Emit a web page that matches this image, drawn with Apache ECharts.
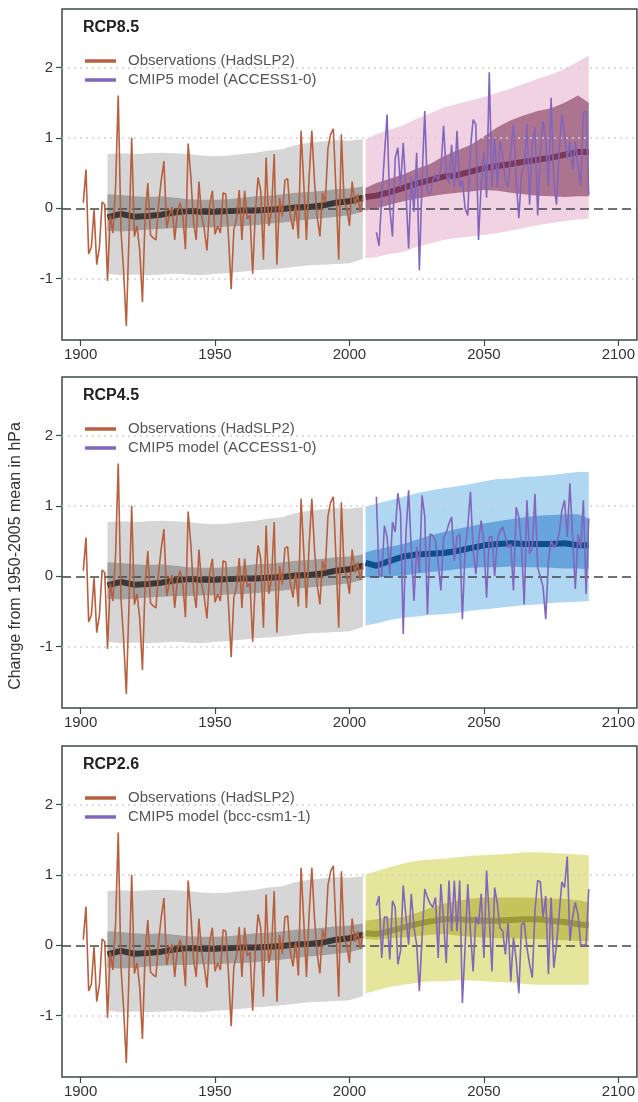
<!DOCTYPE html>
<html>
<head>
<meta charset="utf-8">
<script src="https://cdn.jsdelivr.net/npm/echarts@6/dist/echarts.min.js"></script>
<style>
html, body { margin: 0; padding: 0; background: #fff; }
#chart { width: 638px; height: 1102px; }
</style>
</head>
<body>
<div id="chart"></div>
<script>
// ---- data ----
var obsName = 'Observations (HadSLP2)';
var obsStart = 1901;
var obsValues = [
    0.08, 0.55, -0.65, -0.55, -0.02, -0.80, -0.55, 0.09, 0.05, -1.03,
    -0.10, -0.35, 0.30, 1.60, -0.30, -0.90, -1.67, -0.40, 1.00, -0.40,
    -0.25, -0.60, -1.33, -0.10, 0.36, -0.38, -0.42, -0.45, 0.05, 0.40,
    0.67, -0.28, -0.10, 0.02, -0.45, -0.05, 0.08, -0.10, -0.58, 0.92,
    0.45, -0.20, -0.45, 0.38, -0.10, -0.30, -0.60, 0.05, 0.25, -0.37,
    -0.25, -0.35, 0.22, 0.20, -0.40, -1.15, -0.30, -0.15, 0.26, -0.45,
    0.25, -0.15, -0.10, -0.93, -0.05, 0.44, 0.25, -0.73, 0.72, -0.25,
    -0.05, 0.77, -0.80, 0.15, -0.12, 0.40, 0.42, -0.10, -0.30, 0.05,
    -0.43, 1.10, 0.35, -0.45, 0.45, 1.10, 0.38, -0.12, -0.40, 0.22,
    0.08, 0.85, 1.05, 1.13, 0.25, -0.73, 1.05, 0.10, 0.00, -0.25,
    0.38, 0.05, 0.20, -0.05, 0.18
];

var histYears   = [1910, 1915, 1920, 1925, 1930, 1935, 1940, 1945, 1950, 1955, 1960, 1965, 1970, 1975, 1980, 1985, 1990, 1995, 2000, 2005];
var histLightHi = [0.77, 0.78, 0.77, 0.78, 0.79, 0.78, 0.77, 0.75, 0.74, 0.75, 0.77, 0.79, 0.82, 0.84, 0.90, 0.93, 0.95, 0.97, 0.96, 0.98];
var histLightLo = [-0.93, -0.95, -0.94, -0.95, -0.94, -0.93, -0.94, -0.95, -0.93, -0.92, -0.90, -0.88, -0.87, -0.85, -0.83, -0.81, -0.80, -0.79, -0.78, -0.72];
var histDarkHi  = [0.20, 0.19, 0.17, 0.16, 0.17, 0.15, 0.13, 0.12, 0.12, 0.13, 0.15, 0.17, 0.18, 0.20, 0.22, 0.23, 0.25, 0.27, 0.28, 0.31];
var histDarkLo  = [-0.32, -0.33, -0.32, -0.30, -0.29, -0.28, -0.28, -0.27, -0.27, -0.26, -0.25, -0.24, -0.22, -0.20, -0.18, -0.16, -0.14, -0.12, -0.10, -0.05];
var histMean    = [-0.13, -0.08, -0.12, -0.11, -0.09, -0.06, -0.04, -0.05, -0.05, -0.04, -0.03, -0.03, -0.02, -0.01, 0.01, 0.02, 0.04, 0.08, 0.10, 0.15];

var futYears = [2006, 2010, 2015, 2020, 2025, 2030, 2035, 2040, 2045, 2050, 2055, 2060, 2065, 2070, 2075, 2080, 2085, 2089];

var rcp85LightHi = [0.98, 1.05, 1.12, 1.18, 1.27, 1.35, 1.43, 1.48, 1.53, 1.58, 1.64, 1.70, 1.77, 1.84, 1.90, 1.98, 2.08, 2.17];
var rcp85LightLo = [-0.71, -0.69, -0.65, -0.62, -0.55, -0.50, -0.45, -0.42, -0.40, -0.38, -0.35, -0.32, -0.28, -0.24, -0.21, -0.18, -0.16, -0.15];
var rcp85DarkHi  = [0.29, 0.36, 0.42, 0.48, 0.56, 0.63, 0.74, 0.82, 0.90, 1.02, 1.15, 1.25, 1.32, 1.38, 1.42, 1.50, 1.60, 1.50];
var rcp85DarkLo  = [-0.03, 0.00, 0.05, 0.10, 0.14, 0.17, 0.20, 0.22, 0.24, 0.26, 0.25, 0.22, 0.20, 0.18, 0.17, 0.16, 0.17, 0.17];
var rcp85Mean    = [0.16, 0.18, 0.23, 0.29, 0.35, 0.40, 0.45, 0.47, 0.52, 0.57, 0.60, 0.63, 0.66, 0.69, 0.72, 0.76, 0.80, 0.80];

var rcp45LightHi = [0.99, 1.03, 1.08, 1.13, 1.18, 1.22, 1.25, 1.28, 1.31, 1.35, 1.38, 1.39, 1.41, 1.42, 1.44, 1.46, 1.48, 1.48];
var rcp45LightLo = [-0.70, -0.67, -0.62, -0.59, -0.57, -0.55, -0.54, -0.52, -0.49, -0.47, -0.45, -0.43, -0.41, -0.40, -0.38, -0.37, -0.36, -0.35];
var rcp45DarkHi  = [0.34, 0.38, 0.42, 0.46, 0.52, 0.58, 0.63, 0.67, 0.71, 0.75, 0.78, 0.81, 0.84, 0.86, 0.87, 0.88, 0.88, 0.82];
var rcp45DarkLo  = [-0.01, -0.02, 0.00, 0.01, 0.04, 0.06, 0.08, 0.10, 0.12, 0.13, 0.13, 0.14, 0.13, 0.13, 0.12, 0.11, 0.11, 0.10];
var rcp45Mean    = [0.19, 0.15, 0.22, 0.28, 0.31, 0.32, 0.33, 0.36, 0.40, 0.44, 0.46, 0.47, 0.46, 0.46, 0.46, 0.47, 0.44, 0.44];

var rcp26LightHi = [1.01, 1.05, 1.11, 1.16, 1.20, 1.22, 1.23, 1.25, 1.27, 1.28, 1.29, 1.30, 1.32, 1.32, 1.31, 1.30, 1.29, 1.28];
var rcp26LightLo = [-0.68, -0.64, -0.59, -0.56, -0.53, -0.51, -0.51, -0.50, -0.50, -0.51, -0.52, -0.53, -0.55, -0.56, -0.56, -0.56, -0.56, -0.56];
var rcp26DarkHi  = [0.35, 0.37, 0.39, 0.40, 0.46, 0.53, 0.59, 0.63, 0.66, 0.68, 0.68, 0.68, 0.68, 0.67, 0.66, 0.66, 0.64, 0.61];
var rcp26DarkLo  = [0.09, 0.08, 0.10, 0.11, 0.13, 0.15, 0.16, 0.14, 0.12, 0.11, 0.10, 0.10, 0.09, 0.09, 0.08, 0.07, 0.06, 0.06];
var rcp26Mean    = [0.17, 0.16, 0.20, 0.25, 0.30, 0.34, 0.37, 0.37, 0.36, 0.35, 0.35, 0.36, 0.37, 0.37, 0.35, 0.33, 0.30, 0.28];

var modelStart = 2010;
var rcp85Model = [
    -0.34, -0.53, 0.15, 0.75, 1.33, 0.00, -0.40, 0.71, 0.86, 0.30,
    0.93, 0.25, -0.57, 0.45, -0.05, 0.79, -0.88, 0.40, 1.38, 0.25,
    0.20, 0.40, 0.48, 0.40, 0.55, 1.17, 0.50, 0.35, 0.90, 0.30,
    1.10, 0.30, 0.40, 0.00, -0.10, 0.85, 1.26, 1.19, -0.45, 0.35,
    0.80, 0.15, 1.93, 0.30, 1.00, 0.30, 0.95, 0.75, 0.40, 0.30,
    0.80, 1.19, 0.40, -0.14, 0.50, 0.60, 1.20, 0.05, 0.95, 1.15,
    -0.10, 0.80, 1.24, 0.95, 0.30, 1.57, 0.40, 0.05, 0.80, 1.33,
    1.05, 0.70, 0.95, 0.55, 0.95, 0.60, 0.31, 1.36, 1.38, 0.19
];
var rcp45Model = [
    1.13, 0.03, 0.00, 0.72, 0.56, 0.03, 0.77, 0.63, 1.18, 0.90,
    -0.82, 0.60, 1.22, 0.37, -0.35, 0.42, 0.05, 1.15, 0.85, -0.54,
    0.60, 0.58, 0.50, 0.18, -0.20, 0.55, 0.62, 0.75, 0.84, 0.22,
    0.56, 0.60, -0.61, 0.37, 0.70, 1.20, 0.37, 0.03, 0.50, 0.79,
    0.46, -0.30, 0.56, 0.56, 0.00, 0.51, 0.65, 0.70, 0.56, 0.41,
    0.46, -0.20, 0.98, 0.84, 0.41, -0.40, 1.08, 0.32, 0.41, 1.17,
    0.13, -0.01, -0.15, -0.61, 0.22, 0.51, 0.41, 0.46, 0.60, 0.94,
    1.08, 0.56, 1.32, 0.55, -0.18, 0.60, 0.40, 1.08, -0.25, 0.82
];
var rcp26Model = [
    0.56, 0.70, -0.18, 0.40, 0.40, -0.20, 0.63, 0.54, -0.27, -0.08,
    0.85, 0.40, 0.01, 0.73, 0.25, 0.01, -0.65, 0.11, 0.80, 0.68,
    0.59, 0.54, 0.68, -0.18, 0.87, 0.35, -0.25, 0.92, 0.20, 0.92,
    0.20, 0.92, -0.82, -0.03, 0.87, 0.20, -0.37, 0.40, 0.30, 0.73,
    -0.18, 1.06, 0.40, -0.37, 0.82, 0.59, 0.25, 0.20, -0.13, 0.32,
    -0.51, 0.11, -0.20, -0.68, 0.30, 0.32, -0.03, -0.27, -0.46, 0.49,
    0.92, 0.90, 0.40, 0.70, -0.41, 0.68, -0.32, 0.01, 0.44, 0.90,
    0.82, 1.26, 0.06, 0.40, 0.61, 0.44, 0.01, 0.00, 0.01, 0.80
];

var xTicks = [1900, 1950, 2000, 2050, 2100];
var yTicks = [-1, 0, 1, 2];
var yLabel = 'Change from 1950-2005 mean in hPa';

// ---- layout / style ----
var font = '"Liberation Sans", Arial, sans-serif';
var panels = [
    { title: 'RCP8.5', model: 'CMIP5 model (ACCESS1-0)', values: rcp85Model,
      light: [rcp85LightLo, rcp85LightHi], dark: [rcp85DarkLo, rcp85DarkHi], mean: rcp85Mean,
      cLight: '#f1d2e2', cDark: '#ad7490', cMean: '#7b3753', top: 9 },
    { title: 'RCP4.5', model: 'CMIP5 model (ACCESS1-0)', values: rcp45Model,
      light: [rcp45LightLo, rcp45LightHi], dark: [rcp45DarkLo, rcp45DarkHi], mean: rcp45Mean,
      cLight: '#b0d7f2', cDark: '#68a5dc', cMean: '#0d4f8c', top: 377 },
    { title: 'RCP2.6', model: 'CMIP5 model (bcc-csm1-1)', values: rcp26Model,
      light: [rcp26LightLo, rcp26LightHi], dark: [rcp26DarkLo, rcp26DarkHi], mean: rcp26Mean,
      cLight: '#e5e59c', cDark: '#c4c35c', cMean: '#9a9937', top: 746 }
];
var gridH = 331;

function fromStart(start, vals) {
    return vals.map(function (v, i) { return [start + i, v]; });
}
function pairs(years, vals) {
    return years.map(function (y, i) { return [y, vals[i]]; });
}

function band(g, years, lo, hi, color, z) {
    return {
        type: 'custom', xAxisIndex: g, yAxisIndex: g, z: z, silent: true, clip: true,
        data: years.map(function (y, i) { return [y, lo[i], hi[i]]; }),
        encode: { x: 0, y: [1, 2] },
        renderItem: function (params, api) {
            if (params.dataIndexInside !== 0) return;
            var n = params.dataInsideLength, up = [], down = [];
            for (var i = 0; i < n; i++) {
                up.push(api.coord([api.value(0, i), api.value(2, i)]));
                down.push(api.coord([api.value(0, i), api.value(1, i)]));
            }
            return { type: 'polygon', shape: { points: up.concat(down.reverse()) }, style: { fill: color } };
        }
    };
}

function line(g, name, data, color, width, z) {
    return {
        type: 'line', name: name, xAxisIndex: g, yAxisIndex: g, data: data, z: z,
        symbol: 'none', showSymbol: false, silent: true,
        lineStyle: { color: color, width: width }, itemStyle: { color: color }
    };
}

function guides(g) {
    return {
        type: 'line', xAxisIndex: g, yAxisIndex: g, data: [[2000, 0]], z: 4,
        symbol: 'none', silent: true, lineStyle: { width: 0 },
        markLine: {
            silent: true, symbol: 'none', label: { show: false }, animation: false,
            data: yTicks.map(function (v) {
                return v === 0
                    ? { yAxis: v, lineStyle: { color: '#444', width: 1.6, type: [9, 5] } }
                    : { yAxis: v, lineStyle: { color: '#d2d2d2', width: 1.5, type: [2, 4] } };
            })
        }
    };
}

var grids = [], xAxes = [], yAxes = [], series = [], titles = [], legends = [];
panels.forEach(function (p, g) {
    grids.push({ left: 62, right: 1, top: p.top, height: gridH, show: true,
                 borderColor: '#3d4a46', borderWidth: 1.5, backgroundColor: 'transparent' });
    xAxes.push({
        type: 'value', gridIndex: g, min: 1893.08, max: 2106.92, position: 'bottom',
        axisLine: { show: false, onZero: false }, splitLine: { show: false },
        axisTick: { show: true, length: 6, customValues: xTicks, lineStyle: { color: '#3d4a46', width: 1.2 } },
        axisLabel: { customValues: xTicks, margin: 7, fontSize: 15, color: '#333', fontFamily: font,
                     formatter: function (v) { return String(v); } }
    });
    yAxes.push({
        type: 'value', gridIndex: g, min: -1.87, max: 2.83,
        axisLine: { show: false, onZero: false }, splitLine: { show: false },
        axisTick: { show: true, length: 6, customValues: yTicks, lineStyle: { color: '#3d4a46', width: 1.2 } },
        axisLabel: { customValues: yTicks, margin: 9, fontSize: 15, color: '#333', fontFamily: font,
                     formatter: function (v) { return String(v); } }
    });

    series.push(band(g, histYears, histLightLo, histLightHi, '#d6d6d6', 1));
    series.push(band(g, histYears, histDarkLo, histDarkHi, '#a2a2a2', 2));
    series.push(band(g, futYears, p.light[0], p.light[1], p.cLight, 1));
    series.push(band(g, futYears, p.dark[0], p.dark[1], p.cDark, 2));
    series.push(line(g, null, pairs(histYears, histMean), '#383838', 6, 3));
    series.push(line(g, null, pairs(futYears, p.mean), p.cMean, 6, 3));
    series.push(guides(g));
    series.push(line(g, obsName, fromStart(obsStart, obsValues), '#b85f3e', 1.6, 5));
    series.push(line(g, p.model, fromStart(modelStart, p.values), '#8265bd', 1.6, 5));

    titles.push({ text: p.title, left: 83, top: p.top + 11, padding: 0,
                  textStyle: { fontSize: 16, fontWeight: 'bold', color: '#222', fontFamily: font } });
    legends.push({
        left: 85, top: p.top + 44, padding: 0, orient: 'vertical', selectedMode: false,
        icon: 'rect', itemWidth: 31, itemHeight: 3.5, itemGap: 3,
        data: [obsName, p.model],
        textStyle: { fontSize: 15, lineHeight: 16, color: '#555', fontFamily: font, padding: [0, 0, 0, 7] }
    });
});

var myChart = echarts.init(document.getElementById('chart'));
myChart.setOption({
    animation: false,
    backgroundColor: '#fff',
    title: titles,
    legend: legends,
    grid: grids,
    xAxis: xAxes,
    yAxis: yAxes,
    series: series,
    graphic: [{
        type: 'text', x: 16, y: 556, rotation: Math.PI / 2,
        style: { text: yLabel, fontSize: 16, fontFamily: font, fill: '#333', align: 'center', verticalAlign: 'middle' }
    }]
});
</script>
</body>
</html>
